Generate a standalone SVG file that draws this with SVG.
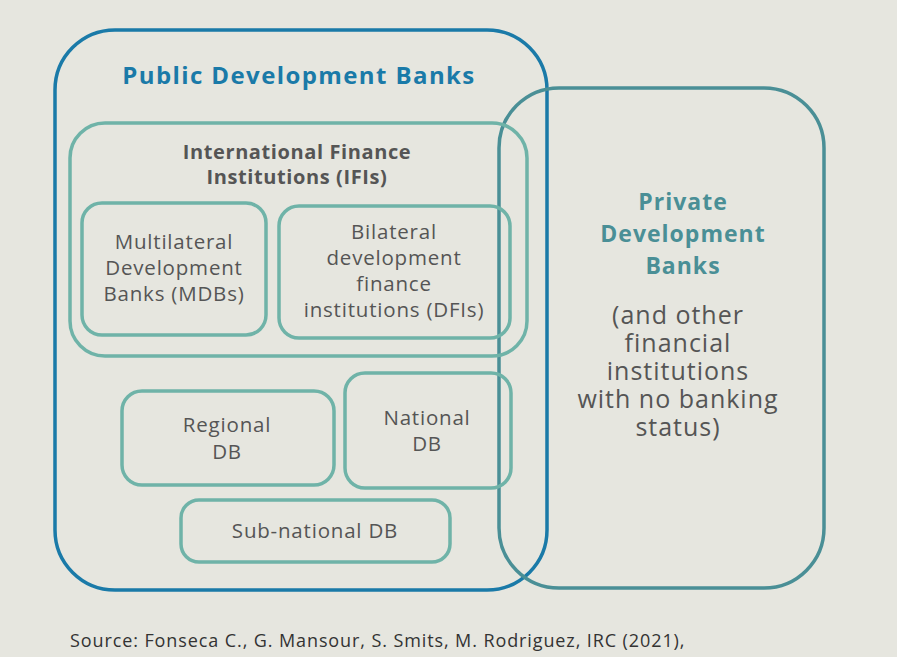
<svg xmlns="http://www.w3.org/2000/svg" width="897" height="657" viewBox="0 0 897 657">
<style>
text{font-family:"Open Sans","DejaVu Sans",sans-serif;text-anchor:middle;fill:#555}
.sub{fill:none;stroke:#6fb3a8;stroke-width:3.5}
.l{font-size:20.5px;letter-spacing:0.8px}
.b{font-weight:bold}
</style>
<rect width="897" height="657" fill="#e6e6df"/>
<g id="public"><rect x="55" y="30" width="492" height="560" rx="60" fill="none" stroke="#1a7aa8" stroke-width="3.5"/>
<text x="299" y="84" class="b" style="font-size:24px;letter-spacing:1.4px;fill:#1a7aa8">Public Development Banks</text></g>
<g id="private"><rect x="499" y="88" width="325" height="500" rx="60" fill="none" stroke="#4a8f96" stroke-width="3.5"/>
<text class="b" style="font-size:23px;letter-spacing:1px;fill:#4a8f96"><tspan x="683" y="210">Private</tspan><tspan x="683" y="242">Development</tspan><tspan x="683" y="274">Banks</tspan></text>
<text style="font-size:25px;letter-spacing:1px"><tspan x="678" y="324">(and other</tspan><tspan x="678" y="352">financial</tspan><tspan x="678" y="380">institutions</tspan><tspan x="678" y="408">with no banking</tspan><tspan x="678" y="436">status)</tspan></text></g>
<g id="ifi"><rect class="sub" x="70" y="123" width="457" height="233" rx="35"/>
<text class="b" style="font-size:20px;letter-spacing:0.6px"><tspan x="297" y="159">International Finance</tspan><tspan x="297" y="184">Institutions (IFIs)</tspan></text></g>
<g id="mdb"><rect class="sub" x="82" y="203" width="184" height="132" rx="20"/>
<text class="l"><tspan x="174" y="249">Multilateral</tspan><tspan x="174" y="275">Development</tspan><tspan x="174" y="301">Banks (MDBs)</tspan></text></g>
<g id="dfi"><rect class="sub" x="279" y="206" width="231" height="132" rx="20"/>
<text class="l"><tspan x="394" y="239">Bilateral</tspan><tspan x="394" y="265">development</tspan><tspan x="394" y="291">finance</tspan><tspan x="394" y="317">institutions (DFIs)</tspan></text></g>
<g id="regional"><rect class="sub" x="122" y="391" width="212" height="94" rx="20"/>
<text class="l"><tspan x="227" y="432">Regional</tspan><tspan x="227" y="459">DB</tspan></text></g>
<g id="national"><rect class="sub" x="345" y="373" width="166" height="115" rx="20"/>
<text class="l"><tspan x="427" y="425">National</tspan><tspan x="427" y="451">DB</tspan></text></g>
<g id="subnational"><rect class="sub" x="181" y="500" width="269" height="62" rx="18"/>
<text class="l" x="315" y="538">Sub-national DB</text></g>
<g id="connectors"></g>
<text x="70" y="647" style="font-size:18px;letter-spacing:0.9px;text-anchor:start;fill:#333">Source: Fonseca C., G. Mansour, S. Smits, M. Rodriguez, IRC (2021),</text>
</svg>
